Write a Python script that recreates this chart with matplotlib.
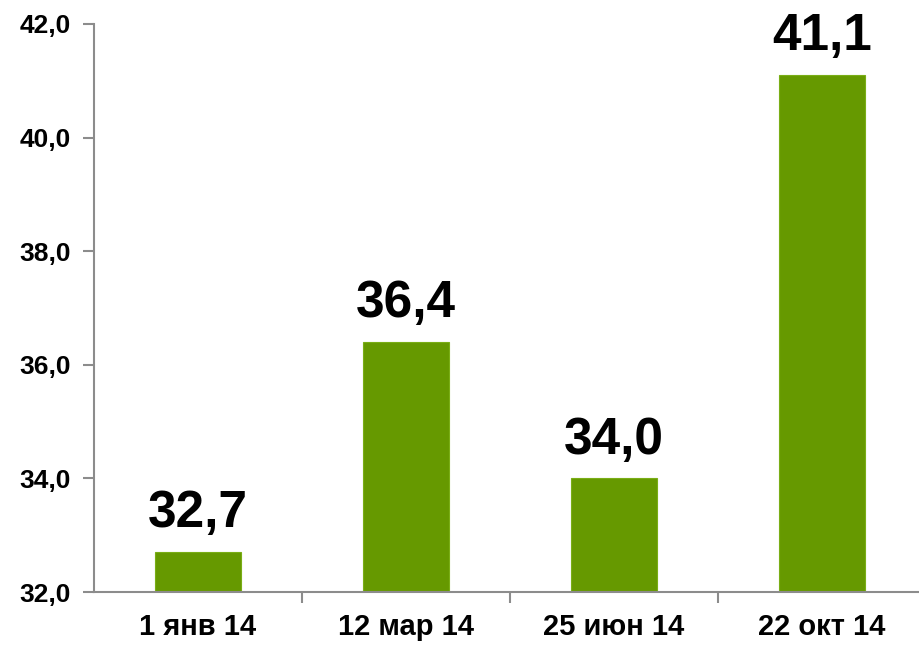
import matplotlib.pyplot as plt
from matplotlib.ticker import FixedLocator, FuncFormatter

dates = ['1 янв 14', '12 мар 14', '25 июн 14', '22 окт 14']
values = [32.7, 36.4, 34.0, 41.1]
y_ticks = [32, 34, 36, 38, 40, 42]

plt.rcParams['font.family'] = ['Liberation Sans', 'DejaVu Sans']
plt.rcParams['font.weight'] = 'bold'

fig = plt.figure(figsize=(9.2, 6.46), dpi=100)
ax = fig.add_axes([94 / 920, 54 / 646, 832 / 920, 568 / 646])

x = range(len(dates))
bars = ax.bar(x, values, width=0.41, color='#669900', edgecolor='#7aae16', linewidth=0.8)

for xi, v in zip(x, values):
    ax.annotate(f'{v:.1f}'.replace('.', ','), (xi, v), xytext=(0, 10),
                textcoords='offset points', ha='center', va='bottom',
                fontsize=37, fontweight='bold')

ax.set_xlim(-0.5, 3.5)
ax.set_ylim(32, 42)
ax.set_yticks(y_ticks)
ax.yaxis.set_major_formatter(FuncFormatter(lambda v, p: f'{v:.1f}'.replace('.', ',')))
ax.tick_params(axis='y', labelsize=19, length=8, width=1.5, color='#8c8c8c', pad=9)

# category labels centred, ticks on the boundaries between them
ax.set_xticks(list(x))
ax.set_xticklabels(dates, fontsize=21, fontweight='bold')
ax.tick_params(axis='x', which='major', length=0, pad=15)
ax.xaxis.set_minor_locator(FixedLocator([0.5, 1.5, 2.5, 3.5]))
ax.tick_params(axis='x', which='minor', length=8, width=1.5, color='#8c8c8c')

for side in ['top', 'right']:
    ax.spines[side].set_visible(False)
for side in ['left', 'bottom']:
    ax.spines[side].set_color('#8c8c8c')
    ax.spines[side].set_linewidth(1.5)

fig.savefig('out.png', dpi=100)
